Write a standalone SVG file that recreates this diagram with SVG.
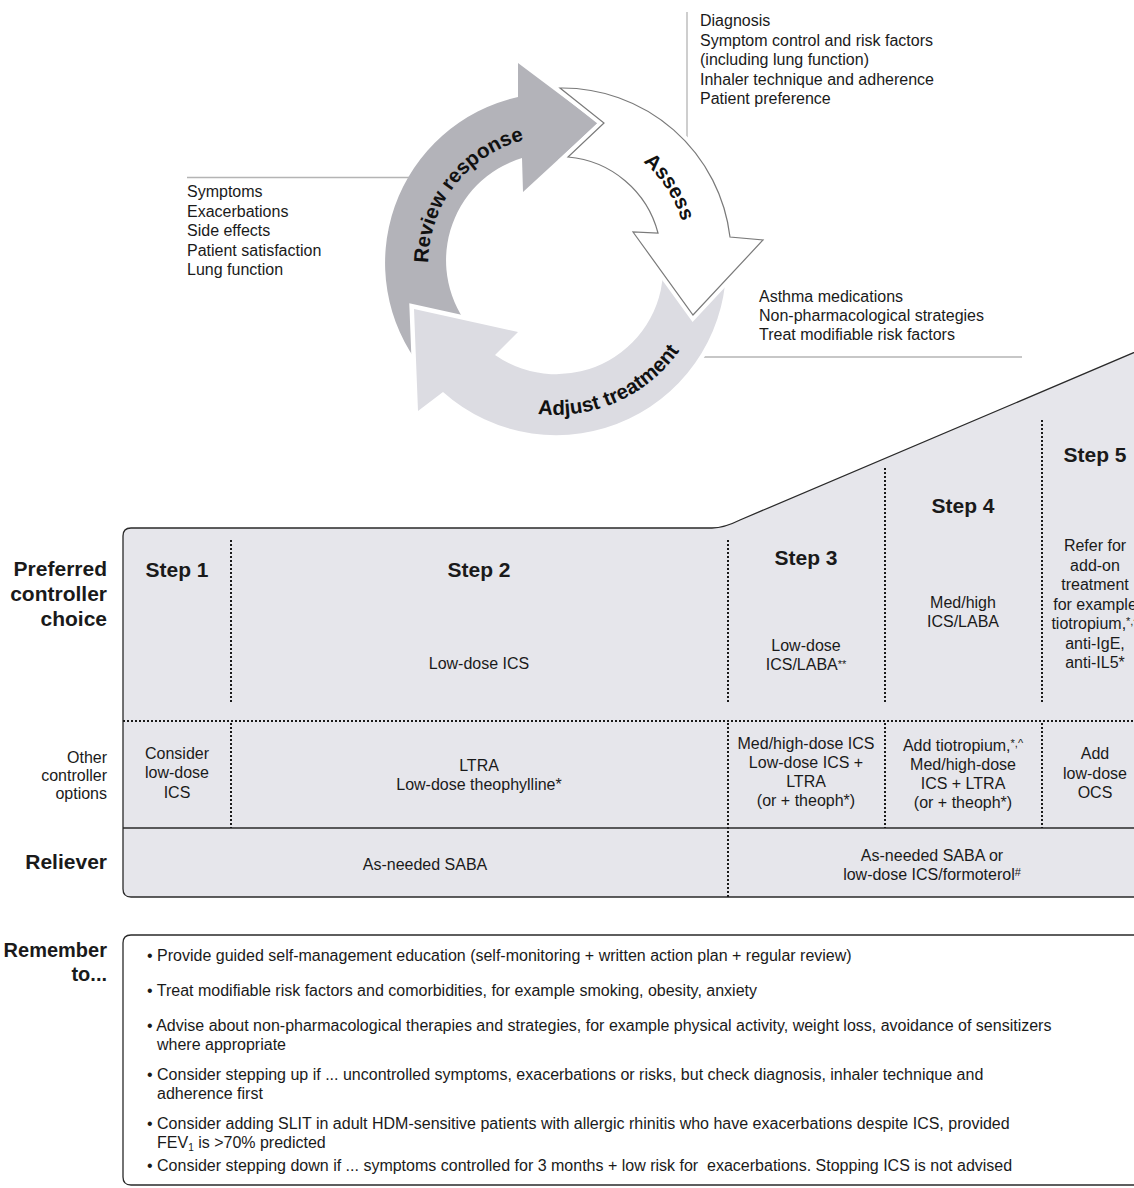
<svg xmlns="http://www.w3.org/2000/svg" width="1134" height="1188" viewBox="0 0 1134 1188">
<defs>
<style>
.t{font-family:"Liberation Sans",Arial,Helvetica,sans-serif;fill:#1a1a1a}
.s{font-size:16px}
.sm{font-size:16px}
.b{font-weight:bold}
.st{font-size:21px;font-weight:bold}
.cy{font-size:20.5px;font-weight:bold;fill:#111}
.lead{stroke:#b4b4b4;stroke-width:1.3;fill:none}
.dot{stroke:#1a1a1a;stroke-width:2;stroke-dasharray:2 2;fill:none}
.edge{stroke:#2a2a2a;stroke-width:1.3;fill:none}
.sup{font-size:11px}
</style>
<path id="pReview" d="M447.5,331.8 A128,128 0 0 1 595.6,142.3"/>
<path id="pAssess" d="M566.4,132.1 A125,125 0 0 1 677.9,303.8"/>
<path id="pAdjust" d="M447.4,368.9 A151,151 0 0 0 706.6,253.5"/>
</defs>
<rect width="1134" height="1188" fill="#fff"/>

<g id="connectors">
<path class="lead" d="M187,177.5 H409"/>
<path class="lead" d="M687,12 V143"/>
<path class="lead" d="M699,357 H1022"/>
</g>

<g id="review">
<path d="M422,368.7 A170,170 0 0 1 518,97 L518,63 L598,123 L523,192 L522,158 A107,107 0 0 0 471.7,329.9 Z" fill="#b3b3b9"/>
<text class="t cy"><textPath href="#pReview" startOffset="50%" text-anchor="middle">Review response</textPath></text>
</g>

<g id="adjust">
<path d="M726,258 A170,170 0 0 1 443,392 L418,411 L414,309 L518,332 L495,355 A107,107 0 0 0 663,260.3 Z" fill="#dcdce2" stroke="#fff" stroke-width="9" stroke-linejoin="miter" paint-order="stroke"/>
<text class="t cy"><textPath href="#pAdjust" startOffset="50%" text-anchor="middle">Adjust treatment</textPath></text>
</g>

<g id="assess">
<path d="M560,88 A169,169 0 0 1 730,237 L763,240 L693,315 L633,232 L658,233 A102,102 0 0 0 568,157 L604,123 Z" fill="#fff" stroke="#fff" stroke-width="9"/>
<path d="M560,88 A169,169 0 0 1 730,237 L763,240 L693,315 L633,232 L658,233 A102,102 0 0 0 568,157 L604,123 Z" fill="#fff" stroke="#7a7a7a" stroke-width="1.2"/>
<text class="t cy"><textPath href="#pAssess" startOffset="50%" text-anchor="middle">Assess</textPath></text>
</g>

<g id="assess-list" class="t s">
<text x="700" y="26">Diagnosis</text>
<text x="700" y="45.5">Symptom control and risk factors</text>
<text x="700" y="65">(including lung function)</text>
<text x="700" y="84.5">Inhaler technique and adherence</text>
<text x="700" y="104">Patient preference</text>
</g>

<g id="review-list" class="t s">
<text x="187" y="197">Symptoms</text>
<text x="187" y="216.5">Exacerbations</text>
<text x="187" y="236">Side effects</text>
<text x="187" y="255.5">Patient satisfaction</text>
<text x="187" y="275">Lung function</text>
</g>

<g id="adjust-list" class="t s">
<text x="759" y="302">Asthma medications</text>
<text x="759" y="321">Non-pharmacological strategies</text>
<text x="759" y="340">Treat modifiable risk factors</text>
</g>

<g id="row-labels" class="t" text-anchor="end">
<text x="107" y="576" class="st">Preferred</text>
<text x="107" y="601" class="st">controller</text>
<text x="107" y="626" class="st">choice</text>
<text x="107" y="763" class="s">Other</text>
<text x="107" y="781" class="s">controller</text>
<text x="107" y="799" class="s">options</text>
<text x="107" y="869" class="st">Reliever</text>
</g>

<g id="steps-panel">
<path d="M123,536 Q123,528 131,528 L712,528 Q724,528 740,520 L1140,350 L1140,897 L131,897 Q123,897 123,889 Z" fill="#e6e6eb" stroke="#2a2a2a" stroke-width="1.3"/>
<path class="dot" d="M123,721 H1134"/>
<path class="edge" d="M123,828 H1134"/>
<path class="dot" d="M231,540 V702 M231,723 V828"/>
<path class="dot" d="M728,540 V702 M728,723 V897"/>
<path class="dot" d="M885,468 V702 M885,723 V828"/>
<path class="dot" d="M1042,420 V702 M1042,723 V828"/>
</g>

<g id="step1" class="t" text-anchor="middle">
<text x="177" y="577" class="st">Step 1</text>
<text x="177" y="758.5" class="s">Consider</text>
<text x="177" y="778" class="s">low-dose</text>
<text x="177" y="797.5" class="s">ICS</text>
</g>

<g id="step2" class="t" text-anchor="middle">
<text x="479" y="577" class="st">Step 2</text>
<text x="479" y="668.5" class="s">Low-dose ICS</text>
<text x="479" y="770.5" class="s">LTRA</text>
<text x="479" y="789.5" class="s">Low-dose theophylline*</text>
</g>

<g id="step3" class="t s" text-anchor="middle">
<text x="806" y="565" class="st">Step 3</text>
<text x="806" y="651">Low-dose</text>
<text x="806" y="670">ICS/LABA<tspan class="sup" dy="-2">**</tspan></text>
<text x="806" y="748.5">Med/high-dose ICS</text>
<text x="806" y="767.5">Low-dose ICS +</text>
<text x="806" y="787">LTRA</text>
<text x="806" y="806">(or + theoph*)</text>
</g>

<g id="step4" class="t s" text-anchor="middle">
<text x="963" y="513" class="st">Step 4</text>
<text x="963" y="608">Med/high</text>
<text x="963" y="627">ICS/LABA</text>
<text x="963" y="751">Add tiotropium,<tspan class="sup" dy="-4">*,^</tspan></text>
<text x="963" y="770">Med/high-dose</text>
<text x="963" y="789">ICS + LTRA</text>
<text x="963" y="808">(or + theoph*)</text>
</g>

<g id="step5" class="t s" text-anchor="middle">
<text x="1095" y="462" class="st">Step 5</text>
<text x="1095" y="551">Refer for</text>
<text x="1095" y="570.5">add-on</text>
<text x="1095" y="590">treatment</text>
<text x="1095" y="609.5">for example</text>
<text x="1095" y="629">tiotropium,<tspan class="sup" dy="-4">*,^</tspan></text>
<text x="1095" y="648.5">anti-IgE,</text>
<text x="1095" y="668">anti-IL5*</text>
<text x="1095" y="759">Add</text>
<text x="1095" y="778.5">low-dose</text>
<text x="1095" y="797.5">OCS</text>
</g>

<g id="reliever" class="t s" text-anchor="middle">
<text x="425" y="869.5">As-needed SABA</text>
<text x="932" y="860.5">As-needed SABA or</text>
<text x="932" y="879.5">low-dose ICS/formoterol<tspan class="sup" dy="-4">#</tspan></text>
</g>

<g id="remember">
<text class="t b" x="107" y="957" text-anchor="end" style="font-size:20px">Remember</text>
<text class="t b" x="107" y="981" text-anchor="end" style="font-size:20px">to...</text>
<path d="M1140,935 L131,935 Q123,935 123,943 L123,1177 Q123,1185 131,1185 L1140,1185" fill="#fff" stroke="#2a2a2a" stroke-width="1.3"/>
<g class="t sm">
<text x="147" y="961">• Provide guided self-management education (self-monitoring + written action plan + regular review)</text>
<text x="147" y="996">• Treat modifiable risk factors and comorbidities, for example smoking, obesity, anxiety</text>
<text x="147" y="1031">• Advise about non-pharmacological therapies and strategies, for example physical activity, weight loss, avoidance of sensitizers</text>
<text x="157" y="1050">where appropriate</text>
<text x="147" y="1080">• Consider stepping up if ... uncontrolled symptoms, exacerbations or risks, but check diagnosis, inhaler technique and</text>
<text x="157" y="1099">adherence first</text>
<text x="147" y="1129">• Consider adding SLIT in adult HDM-sensitive patients with allergic rhinitis who have exacerbations despite ICS, provided</text>
<text x="157" y="1148">FEV<tspan style="font-size:10px" dy="3">1</tspan><tspan dy="-3"> is &gt;70% predicted</tspan></text>
<text x="147" y="1171">• Consider stepping down if ... symptoms controlled for 3 months + low risk for &#160;exacerbations. Stopping ICS is not advised</text>
</g>
</g>
</svg>
